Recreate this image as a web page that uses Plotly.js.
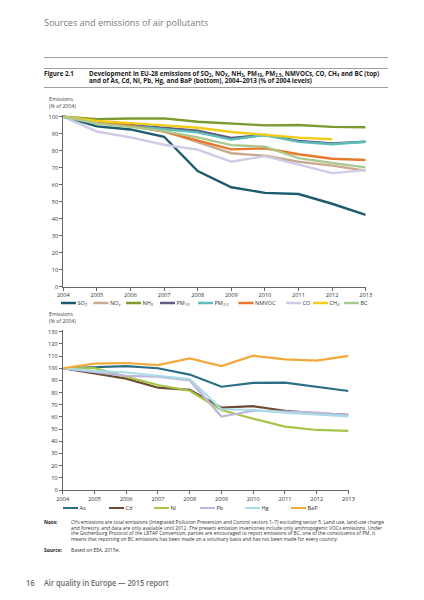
<!DOCTYPE html>
<html><head><meta charset="utf-8">
<script src="https://cdn.plot.ly/plotly-3.0.1.min.js"></script>
<style>
html,body{margin:0;padding:0;background:#fff;}
#page{position:relative;width:424px;height:600px;overflow:hidden;font-family:"Open Sans",sans-serif;}
#chart{position:absolute;left:0;top:0;width:424px;height:600px;}
.t{position:absolute;white-space:nowrap;}
.rule{position:absolute;left:44px;width:344px;height:1px;background:#a0a0a0;}
sub{font-size:68%;vertical-align:-0.12em;line-height:0;}
.foot{transform:scaleX(0.8);transform-origin:0 50%;}
</style></head>
<body><div id="page">
<div id="chart"></div>
<div class="t" style="left:44px;top:18.2px;font-size:9px;line-height:10px;color:#7a7a7a;">Sources and emissions of air pollutants</div>
<div class="rule" style="top:56.5px;"></div>
<div class="rule" style="top:67.8px;"></div>
<div class="t" style="left:44px;top:69.8px;font-size:6.2px;line-height:7.5px;font-weight:700;color:#1a1a1a;">Figure 2.1</div>
<div class="t" style="left:89px;top:69.8px;font-size:6.3px;line-height:7.5px;font-weight:700;color:#1a1a1a;">Development in EU-28 emissions of SO<sub>2</sub>, NO<sub>X</sub>, NH<sub>3</sub>, PM<sub>10</sub>, PM<sub>2.5</sub>, NMVOCs, CO, CH<sub>4</sub> and BC (top)<br>and of As, Cd, Ni, Pb, Hg, and BaP (bottom), 2004–2013 (% of 2004 levels)</div>
<div class="rule" style="top:86.8px;"></div>
<div class="t" style="left:44px;top:519.9px;font-size:4.9px;line-height:5.67px;font-weight:700;color:#222;">Note:</div>
<div class="t" style="left:71px;top:519.9px;font-size:4.9px;line-height:5.67px;color:#333;">CH<sub>4</sub> emissions are total emissions (Integrated Pollution Prevention and Control sectors 1–7) excluding sector 5, Land use, land-use change<br>and forestry, and data are only available until 2012. The present emission inventories include only anthropogenic VOCs emissions. Under<br>the Gothenburg Protocol of the LRTAP Convention, parties are encouraged to report emissions of BC, one of the constituents of PM. It<br>means that reporting on BC emissions has been made on a voluntary basis and has not been made for every country.</div>
<div class="t" style="left:44px;top:547.9px;font-size:4.9px;line-height:5.67px;font-weight:700;color:#222;">Source:</div>
<div class="t" style="left:71px;top:547.9px;font-size:4.9px;line-height:5.67px;color:#333;">Based on EEA, 2015e.</div>
<div class="t foot" style="left:26px;top:577.2px;font-size:9.2px;line-height:11px;font-weight:600;color:#6a6a6a;">16</div>
<div class="t foot" style="left:44px;top:577.2px;font-size:9.2px;line-height:11px;font-weight:600;color:#6a6a6a;">Air quality in Europe — 2015 report</div>
</div>
<script>
// ---- data (top panel) ----
var years = [2004, 2005, 2006, 2007, 2008, 2009, 2010, 2011, 2012, 2013];
var yearLabels = ['2004','2005','2006','2007','2008','2009','2010','2011','2012','2013'];
var SO2   = [100, 94.3, 92.5, 88.2, 68.0, 58.5, 55.2, 54.5, 48.8, 42.2];
var NOx   = [100, 97.0, 95.0, 91.5, 85.0, 78.5, 77.0, 73.5, 71.2, 68.3];
var NH3   = [100, 98.6, 98.9, 99.0, 97.0, 96.1, 94.9, 95.1, 94.0, 93.8];
var PM10  = [100, 97.0, 95.2, 93.5, 91.8, 87.5, 89.2, 85.8, 84.3, 85.3];
var PM25  = [100, 96.5, 94.5, 92.8, 90.8, 86.5, 89.2, 85.2, 83.8, 85.3];
var NMVOC = [100, 97.2, 94.5, 91.2, 85.8, 80.8, 81.4, 77.9, 75.3, 74.5];
var CO    = [100, 91.3, 87.8, 83.5, 80.6, 73.5, 76.8, 71.6, 66.8, 68.6];
var CH4   = [100, 97.5, 96.2, 95.0, 93.5, 91.0, 89.3, 87.7, 86.7, null];
var BC    = [100, 96.0, 94.0, 91.5, 87.8, 83.3, 82.4, 75.6, 72.8, 70.2];
var topNames = ['SO<sub>2</sub>','NO<sub>x</sub>','NH<sub>3</sub>','PM<sub>10</sub>','PM<sub>2.5</sub>','NMVOC','CO','CH<sub>4</sub>','BC'];
var topSeries = [SO2, NOx, NH3, PM10, PM25, NMVOC, CO, CH4, BC];
var topColors = ['#1e5b6d','#c9aa8e','#7c9a2f','#5f5a82','#5dbdbb','#e8782b','#cfcbe7','#f2cc18','#a9c98f'];
var topTicks = [0,10,20,30,40,50,60,70,80,90,100];

// ---- data (bottom panel) ----
var As  = [100, 101.2, 101.8, 100.0, 94.8, 84.8, 88.0, 88.1, 84.6, 81.3];
var Cd  = [100, 95.8, 91.5, 84.0, 82.3, 67.6, 68.8, 65.1, 63.0, 61.8];
var Ni  = [100, 100.2, 93.0, 86.2, 81.5, 65.7, 58.5, 52.0, 49.3, 48.6];
var Pb  = [100, 96.6, 93.8, 93.0, 90.0, 60.3, 65.1, 64.3, 63.5, 61.6];
var Hg  = [100, 97.8, 96.5, 94.0, 91.2, 66.3, 65.7, 63.5, 62.1, 60.5];
var BaP = [100, 103.8, 104.3, 102.6, 108.0, 101.8, 110.3, 107.3, 106.2, 110.2];
var botNames = ['As','Cd','Ni','Pb','Hg','BaP'];
var botSeries = [As, Cd, Ni, Pb, Hg, BaP];
var botColors = ['#2a6f86','#6b4a31','#a7c545','#bdb6dc','#a8dde8','#f2a93b'];
var botTicks = [0,10,20,30,40,50,60,70,80,90,100,110,120,130];

// legend item positions (line start, px)
var topLegX = [61, 93.4, 126, 160, 198, 238.5, 286, 313, 344];
var botLegX = [63, 109, 154, 200, 245, 291];

var W = 424, H = 600;
function px(x){ return x / W; }
function py(y){ return 1 - y / H; }

var traces = [];
var layout = {
  width: W, height: H,
  margin: {l:0, r:0, t:0, b:0},
  paper_bgcolor: 'rgba(0,0,0,0)',
  plot_bgcolor: 'rgba(0,0,0,0)',
  font: {family: '"Open Sans", sans-serif', size: 6, color: '#333'},
  showlegend: true,
  annotations: [],
  hovermode: false
};

function axisX(domain, anchor){
  return {domain: domain, anchor: anchor, range: [2004, 2013], tickvals: years, ticktext: yearLabels,
    ticks: 'outside', ticklen: 3, tickwidth: 1, tickcolor: '#666', showline: true, linecolor: '#666', linewidth: 1,
    showgrid: false, zeroline: false, tickfont: {size: 5.6, color: '#333'}, fixedrange: true};
}
function axisY(domain, anchor, rng, ticks){
  return {domain: domain, anchor: anchor, range: rng, tickvals: ticks,
    ticks: 'outside', ticklen: 3, tickwidth: 1, tickcolor: '#666', showline: true, linecolor: '#666', linewidth: 1,
    showgrid: false, zeroline: false, tickfont: {size: 5.6, color: '#333'}, fixedrange: true};
}
layout.xaxis = axisX([px(63.3), px(365.7)], 'y');
layout.yaxis = axisY([py(286.7), py(286.7 - 1.7*101)], 'x', [0, 101], topTicks);
layout.xaxis2 = axisX([px(62.7), px(348.5)], 'y2');
layout.yaxis2 = axisY([py(490), py(490 - 1.2177*131)], 'x2', [0, 131], botTicks);

function legendId(i){ return i === 0 ? 'legend' : 'legend' + (i + 1); }
function addLegend(i, xLine, yRow){
  layout[legendId(i)] = {x: px(xLine - 5), y: py(yRow), xanchor: 'left', yanchor: 'middle',
    orientation: 'h', bgcolor: 'rgba(0,0,0,0)', borderwidth: 0, font: {size: 5.6, color: '#333'},
    itemclick: false, itemdoubleclick: false, visible: true};
}

topSeries.forEach(function(s, i){
  traces.push({x: years, y: s, name: topNames[i], type: 'scatter', mode: 'lines', xaxis: 'x', yaxis: 'y',
    line: {color: topColors[i], width: 2.4}, legend: legendId(i), showlegend: true, connectgaps: false});
  addLegend(i, topLegX[i], 303);
});
botSeries.forEach(function(s, j){
  var i = j + topSeries.length;
  traces.push({x: years, y: s, name: botNames[j], type: 'scatter', mode: 'lines', xaxis: 'x2', yaxis: 'y2',
    line: {color: botColors[j], width: 2.2}, legend: legendId(i), showlegend: true});
  addLegend(i, botLegX[j], 508);
});

layout.annotations.push({xref: 'paper', yref: 'paper', x: px(47), y: py(102.8), xanchor: 'left', yanchor: 'middle',
  text: 'Emissions<br>(% of 2004)', showarrow: false, align: 'left', font: {size: 5.2, color: '#444'}});
layout.annotations.push({xref: 'paper', yref: 'paper', x: px(47), y: py(317.7), xanchor: 'left', yanchor: 'middle',
  text: 'Emissions<br>(% of 2004)', showarrow: false, align: 'left', font: {size: 5.2, color: '#444'}});

// shorten legend swatch lines to match the reference (15px) and pull the label next to it
var TX = '21.5';
function fixLegends(){
  var items = document.querySelectorAll('#chart g.traces');
  for (var k = 0; k < items.length; k++){
    var g = items[k];
    var paths = g.querySelectorAll('g.legendlines path');
    for (var m = 0; m < paths.length; m++){
      if (paths[m].getAttribute('d') !== 'M5,0h15') paths[m].setAttribute('d', 'M5,0h15');
    }
    var texts = g.querySelectorAll('text');
    for (var q = 0; q < texts.length; q++){
      var t = texts[q];
      if (t.getAttribute('x') !== TX) t.setAttribute('x', TX);
      var lines = t.querySelectorAll('tspan.line');
      for (var n = 0; n < lines.length; n++){
        if (lines[n].getAttribute('x') !== TX) lines[n].setAttribute('x', TX);
      }
    }
  }
}
var gd = document.getElementById('chart');
var obs = new MutationObserver(function(){ fixLegends(); });
obs.observe(gd, {subtree: true, childList: true, attributes: true, attributeFilter: ['d', 'x']});
Plotly.newPlot(gd, traces, layout, {staticPlot: true, displayModeBar: false}).then(function(){
  fixLegends();
  if (gd.on) gd.on('plotly_afterplot', fixLegends);
  setTimeout(fixLegends, 50);
  setTimeout(fixLegends, 400);
  setTimeout(fixLegends, 1000);
});
</script>
</body></html>
